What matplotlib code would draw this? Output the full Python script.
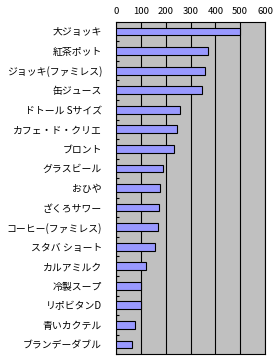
import numpy as np
import matplotlib.pyplot as plt

plt.rcParams['font.family'] = ['Noto Sans CJK JP', 'DejaVu Sans']

items = ['大ジョッキ', '紅茶ポット', 'ジョッキ(ファミレス)', '缶ジュース', 'ドトール Sサイズ',
         'カフェ・ド・クリエ', 'ブロント', 'グラスビール', 'おひや', 'ざくろサワー',
         'コーヒー(ファミレス)', 'スタバ ショート', 'カルアミルク', '冷製スープ',
         'リポビタンD', '青いカクテル', 'ブランデーダブル']
values = [500, 372, 360, 348, 259, 247, 235, 191, 179, 175, 171, 159, 122, 100, 100, 78, 66]
xticks = [0, 100, 200, 300, 400, 500, 600]

fig = plt.figure(figsize=(2.73, 3.62), dpi=100)
ax = fig.add_axes([116/273, 1 - 354.3/362, 149/273, 332.6/362])
ax.set_facecolor('#C0C0C0')

y = np.arange(len(items))
ax.barh(y, values, height=0.4, color='#9999FF', edgecolor='black', linewidth=0.8, zorder=3)

ax.set_xlim(0, 600)
ax.set_ylim(len(items) - 0.5, -0.5)
ax.set_xticks(xticks)
ax.xaxis.tick_top()
ax.tick_params(axis='x', length=0, pad=4, labelsize=6.8)
ax.grid(axis='x', color='black', linewidth=0.8, zorder=1)

ax.set_yticks(y)
ax.set_yticklabels(items, fontsize=7.1)
ax.tick_params(axis='y', which='major', length=0, pad=10)
ax.set_yticks(np.arange(len(items) + 1) - 0.5, minor=True)
ax.tick_params(axis='y', which='minor', length=2.5, direction='in', width=0.8)

for s in ax.spines.values():
    s.set_color('black')
    s.set_linewidth(0.8)

fig.savefig('out.png', dpi=100)
